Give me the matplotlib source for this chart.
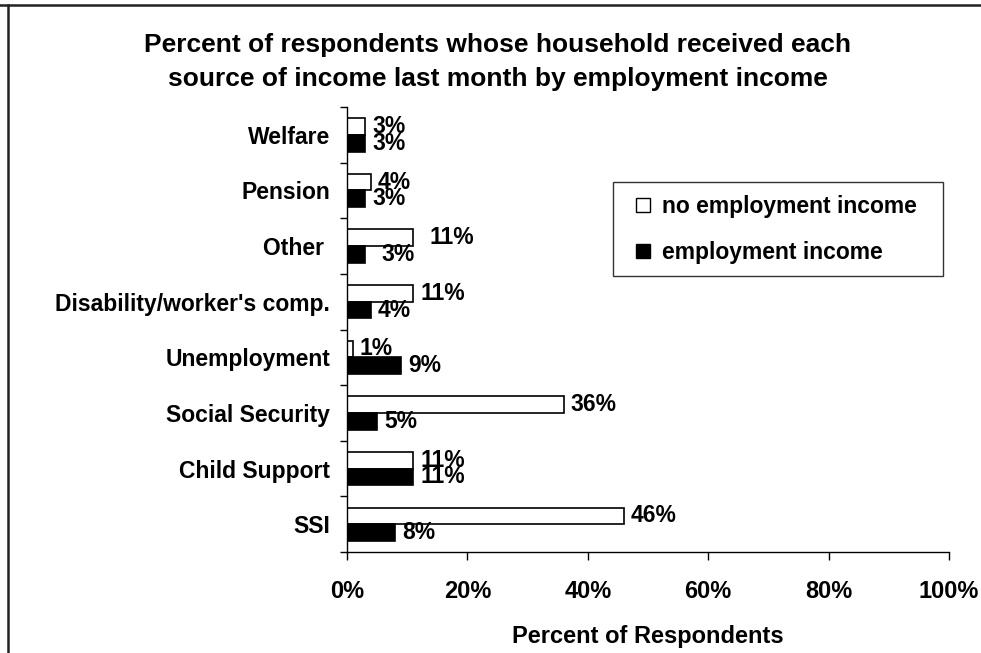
import matplotlib.pyplot as plt
from matplotlib.lines import Line2D
import numpy as np

plt.rcParams['font.family'] = ['Liberation Sans', 'DejaVu Sans']
plt.rcParams['font.weight'] = 'bold'

# income sources, bottom to top as they appear on the axis
sources = ['SSI', 'Child Support', 'Social Security', 'Unemployment',
           "Disability/worker's comp.", 'Other ', 'Pension', 'Welfare']
no_emp = [46, 11, 36, 1, 11, 11, 4, 3]   # no employment income (%)
emp = [8, 11, 5, 9, 4, 3, 3, 3]          # employment income (%)
series = ['no employment income', 'employment income']
xticks = [0, 20, 40, 60, 80, 100]

W, H = 981, 653
fig = plt.figure(figsize=(W / 100, H / 100), dpi=100)
ax = fig.add_axes([347 / W, 1 - 552 / H, (949 - 347) / W, (552 - 107) / H])

y = np.arange(len(sources))
bh = 0.3
ax.barh(y + bh / 2, no_emp, height=bh, color='white', edgecolor='black', linewidth=1.2)
ax.barh(y - bh / 2, emp, height=bh, color='black', edgecolor='black', linewidth=1.2)

# value labels just past the end of each bar
extra = {'Other ': 7}
for i, s in enumerate(sources):
    pad = 5 + extra.get(s, 0)
    ax.annotate(f'{no_emp[i]}%', (no_emp[i], y[i] + bh / 2), xytext=(pad, 0),
                textcoords='offset points', va='center', ha='left',
                fontsize=16.5, fontweight='bold')
    ax.annotate(f'{emp[i]}%', (emp[i], y[i] - bh / 2), xytext=(pad, 0),
                textcoords='offset points', va='center', ha='left',
                fontsize=16.5, fontweight='bold')

ax.set_xlim(0, 100)
ax.set_ylim(-0.5, len(sources) - 0.5)
ax.set_xticks(xticks)
ax.set_xticklabels([f'{t}%' for t in xticks], fontsize=17, fontweight='bold')
ax.tick_params(axis='x', direction='out', length=6, width=1, pad=14)

# category ticks sit between the groups, names in the middle
ax.set_yticks(np.arange(len(sources) + 1) - 0.5)
ax.set_yticklabels([])
ax.set_yticks(y, minor=True)
ax.set_yticklabels(sources, minor=True, fontsize=16.5, fontweight='bold')
ax.tick_params(axis='y', which='major', direction='out', length=5, width=1)
ax.tick_params(axis='y', which='minor', length=0, pad=12)

for side in ['top', 'right']:
    ax.spines[side].set_visible(False)
ax.spines['left'].set_linewidth(1)
ax.spines['bottom'].set_linewidth(1)

ax.set_xlabel('Percent of Respondents', fontsize=17, fontweight='bold', labelpad=16)

fig.text(498 / W, 1 - 62 / H,
         'Percent of respondents whose household received each\n'
         'source of income last month by employment income',
         ha='center', va='center', fontsize=19, fontweight='bold', linespacing=1.5)

# square markers as legend keys
handles = [Line2D([], [], linestyle='none', marker='s', markersize=10.5,
                  markerfacecolor=fc, markeredgecolor='black', markeredgewidth=1)
           for fc in ['white', 'black']]
leg = fig.legend(handles, series, loc='upper left',
                 bbox_to_anchor=(613 / W, 1 - 270 / H, 330 / W, 88 / H),
                 mode='expand', frameon=True, fancybox=False, edgecolor='black',
                 fontsize=16.5, handlelength=1.5, handletextpad=0.1,
                 borderpad=0.55, labelspacing=1.0, borderaxespad=0)
leg.get_frame().set_linewidth(1)
for t in leg.get_texts():
    t.set_fontweight('bold')

# outer chart border
fig.add_artist(Line2D([0, 1], [1 - 5 / H, 1 - 5 / H], transform=fig.transFigure,
                      color='#222222', linewidth=1.8))
fig.add_artist(Line2D([8 / W, 8 / W], [0, 1 - 5 / H], transform=fig.transFigure,
                      color='#222222', linewidth=1.8))

fig.savefig('out.png', dpi=100)
